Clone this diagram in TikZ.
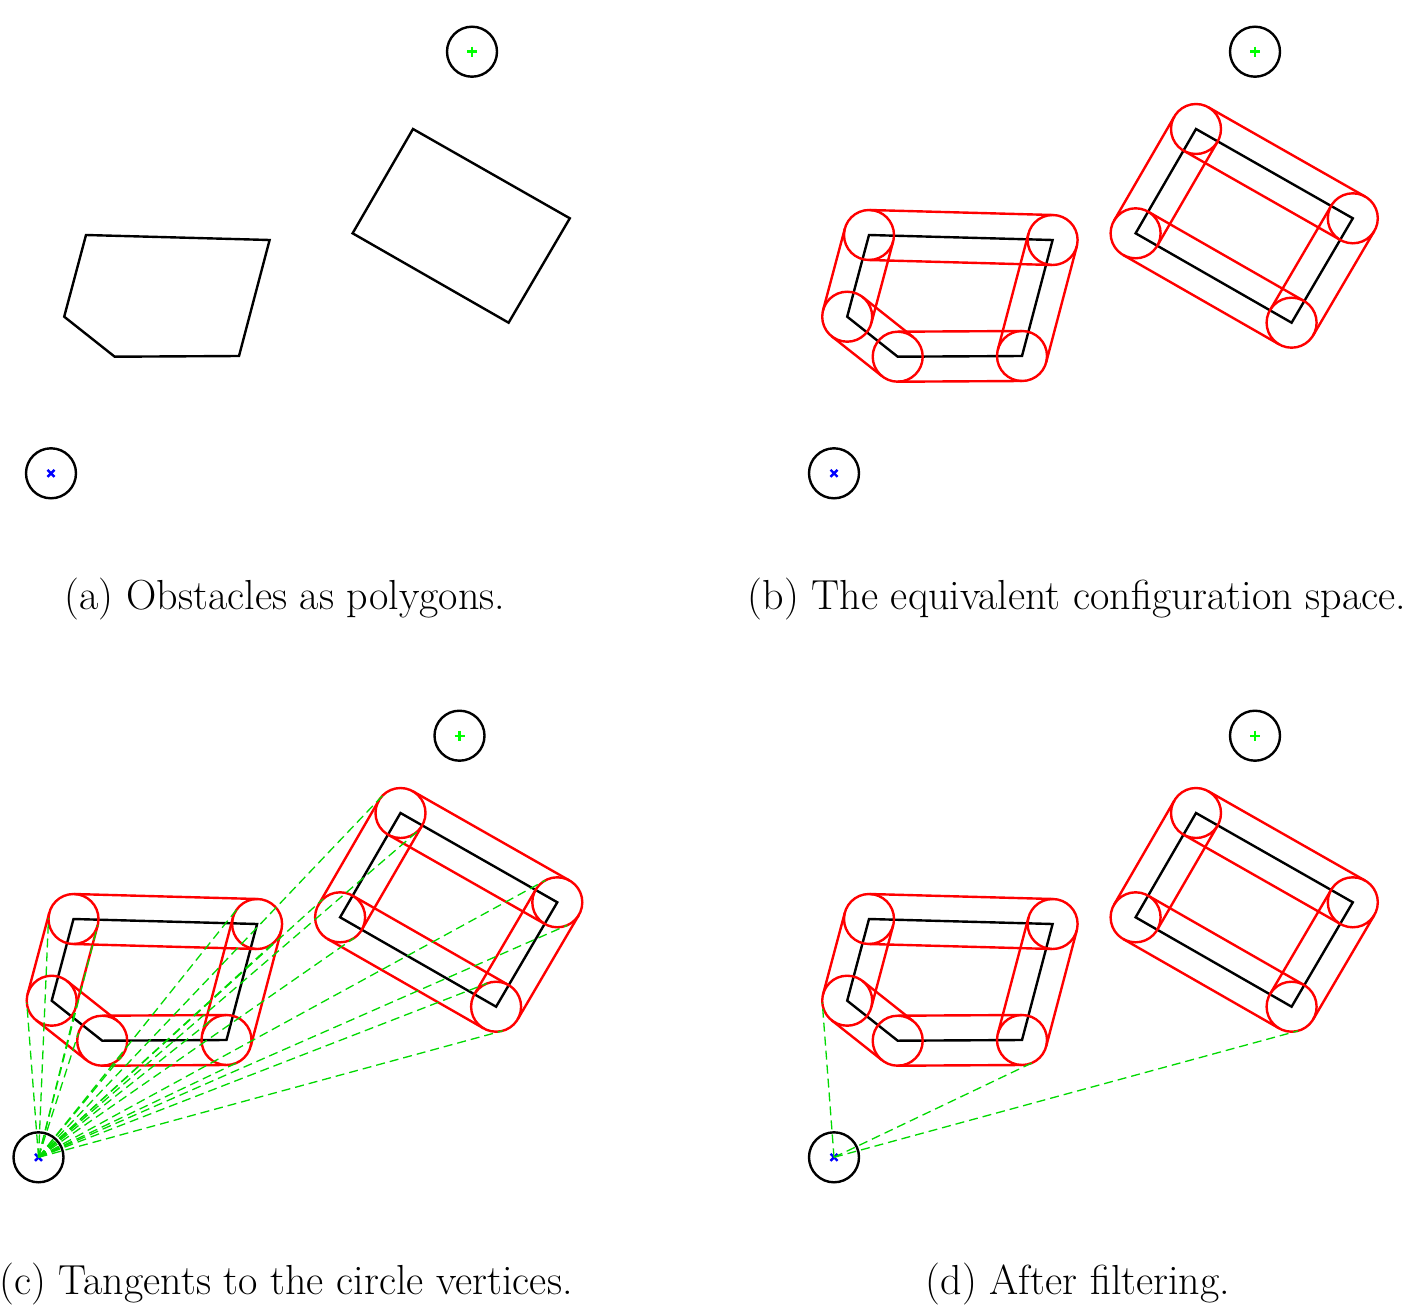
\documentclass[tikz,border=0pt]{standalone}
\usetikzlibrary{calc}
\begin{document}
\begin{tikzpicture}[x=1pt,y=-1pt,
  obst/.style={draw=black,line width=2.4pt,line join=miter},
  robot/.style={circle,draw=black,line width=2.4pt,minimum size=50pt,inner sep=0pt,outer sep=0pt},
  vcirc/.style={circle,draw=red,line width=2.4pt,minimum size=50pt,inner sep=0pt,outer sep=0pt},
  cspace/.style={draw=red,line width=2.4pt},
  tang/.style={draw=green!85!black,line width=1.3pt,dash pattern=on 9pt off 5pt},
  gmark/.style={draw=green,line width=2.4pt},
  bmark/.style={draw=blue,line width=2.4pt},
  captext/.style={font=\fontsize{42}{48}\selectfont,inner sep=0pt}]
\useasboundingbox (0,0) rectangle (1406,1314);
\def\rr{25pt}
% ---------- macros ----------
\newcommand\obstaclesin[1]{%
  \coordinate (#1p1) at (86,235);
  \coordinate (#1p2) at (269.6,240);
  \coordinate (#1p3) at (239,356);
  \coordinate (#1p4) at (114.7,356.7);
  \coordinate (#1p5) at (64.2,316.7);
  \coordinate (#1q1) at (413,129);
  \coordinate (#1q2) at (569.8,218.3);
  \coordinate (#1q3) at (508.6,322.7);
  \coordinate (#1q4) at (352.6,233.3);
  \node[robot] (#1goal) at (472,51.7) {};
  \node[robot] (#1start) at (51,473.3) {};
  \draw[gmark] (#1goal.center) ++(-5,0) -- ++(10,0);
  \draw[gmark] (#1goal.center) ++(0,-5) -- ++(0,10);
  \draw[bmark] (#1start.center) ++(-3.5,-3.5) -- ++(7,7);
  \draw[bmark] (#1start.center) ++(-3.5,3.5) -- ++(7,-7);
  \draw[obst] (#1p1) -- (#1p2) -- (#1p3) -- (#1p4) -- (#1p5) -- cycle;
  \draw[obst] (#1q1) -- (#1q2) -- (#1q3) -- (#1q4) -- cycle;
}
\newcommand\configin[1]{%
  \foreach \v in {p1,p2,p3,p4,p5,q1,q2,q3,q4} {\node[vcirc] (#1v\v) at (#1\v) {};}
  \foreach \s/\t in {p1/p2,p2/p3,p3/p4,p4/p5,p5/p1,q1/q2,q2/q3,q3/q4,q4/q1} {
    \draw[cspace] ($(#1\s)!\rr!90:(#1\t)$) -- ($(#1\t)!\rr!-90:(#1\s)$);
    \draw[cspace] ($(#1\s)!\rr!-90:(#1\t)$) -- ($(#1\t)!\rr!90:(#1\s)$);
  }
}
% ---------- (a) ----------
\begin{scope}
  \obstaclesin{A}
\end{scope}
% ---------- (b) ----------
\begin{scope}[shift={(783,0)}]
  \obstaclesin{B}
  \configin{B}
\end{scope}
% ---------- (c) ----------
\begin{scope}[shift={(-12.5,684)}]
  \obstaclesin{C}
  \configin{C}
\end{scope}
\foreach \v in {p1,p2,p3,p4,p5,q1,q2,q3,q4} {
  \draw[tang] (Cstart.center) -- (tangent cs:node=Cv\v,point={(Cstart.center)},solution=1);
  \draw[tang] (Cstart.center) -- (tangent cs:node=Cv\v,point={(Cstart.center)},solution=2);
}
% ---------- (d) ----------
\begin{scope}[shift={(783,684)}]
  \obstaclesin{D}
  \configin{D}
\end{scope}
\draw[tang] (Dstart.center) -- (tangent cs:node=Dvp5,point={(Dstart.center)},solution=2);
\draw[tang] (Dstart.center) -- (tangent cs:node=Dvp3,point={(Dstart.center)},solution=1);
\draw[tang] (Dstart.center) -- (tangent cs:node=Dvq3,point={(Dstart.center)},solution=1);
% ---------- captions ----------
\node[captext] (capa) at (285,599) {(a) Obstacles as polygons.};
\node[captext] (capb) at (1077,599) {(b) The equivalent configuration space.};
\node[captext] (capc) at (286,1284) {(c) Tangents to the circle vertices.};
\node[captext] (capd) at (1078,1284) {(d) After filtering.};
\end{tikzpicture}
\end{document}
